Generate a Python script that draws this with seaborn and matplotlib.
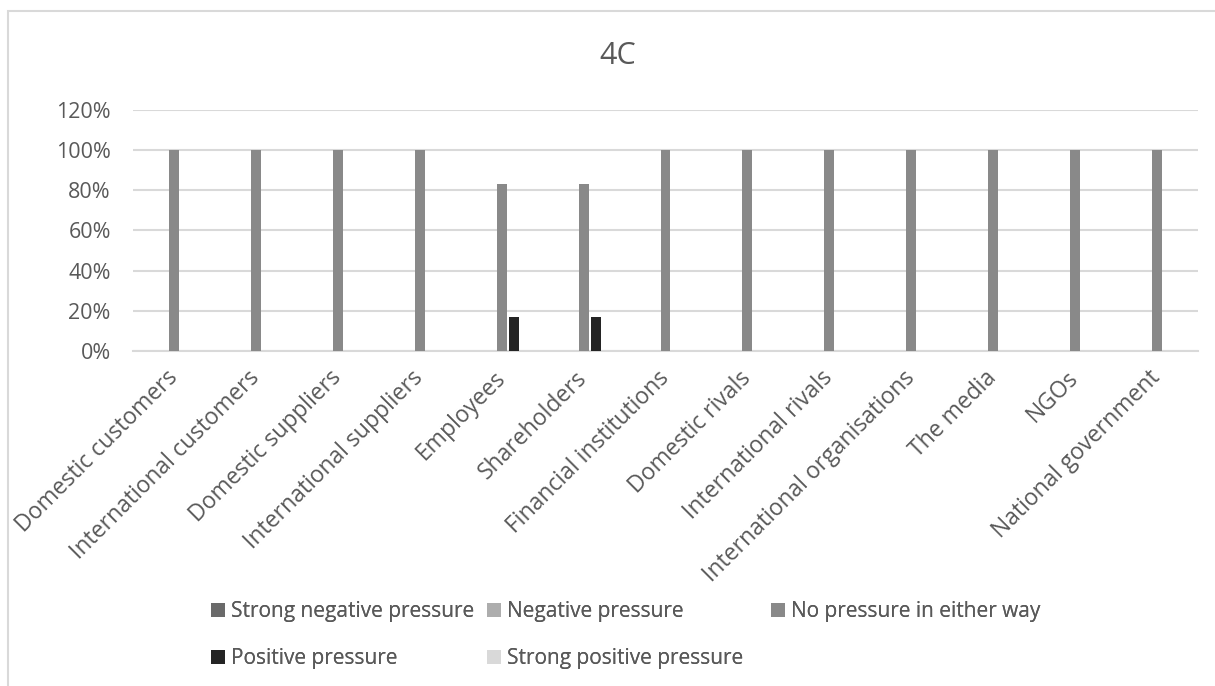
import matplotlib
matplotlib.use("Agg")
import matplotlib.pyplot as plt
from matplotlib.patches import Rectangle
import seaborn as sns
import pandas as pd

categories = [
    "Domestic customers", "International customers", "Domestic suppliers",
    "International suppliers", "Employees", "Shareholders",
    "Financial institutions", "Domestic rivals", "International rivals",
    "International organisations", "The media", "NGOs", "National government",
]
series = [
    "Strong negative pressure", "Negative pressure", "No pressure in either way",
    "Positive pressure", "Strong positive pressure",
]
strong_negative = [0] * 13
negative = [0] * 13
no_pressure = [1.0, 1.0, 1.0, 1.0, 0.833, 0.833, 1.0, 1.0, 1.0, 1.0, 1.0, 1.0, 1.0]
positive = [0, 0, 0, 0, 0.167, 0.167, 0, 0, 0, 0, 0, 0, 0]
strong_positive = [0] * 13
y_ticks = [0, 0.2, 0.4, 0.6, 0.8, 1.0, 1.2]
y_tick_labels = ["0%", "20%", "40%", "60%", "80%", "100%", "120%"]
title = "4C"

colors = ["#6a6a6a", "#adadad", "#898989", "#242424", "#d9d9d9"]

values = [strong_negative, negative, no_pressure, positive, strong_positive]
rows = []
for name, vals in zip(series, values):
    for cat, v in zip(categories, vals):
        rows.append({"Stakeholder": cat, "Pressure": name, "Share": v})
df = pd.DataFrame(rows)

sns.set_theme(style="white")
plt.rcParams["font.family"] = ["Open Sans", "DejaVu Sans"]
text_color = "#595959"
grid_color = "#d9d9d9"

fig = plt.figure(figsize=(12.15, 6.86), dpi=100)
ax = fig.add_axes([133 / 1215, 1 - 351 / 686, (1198 - 133) / 1215, (351 - 110) / 686])

sns.barplot(
    data=df, x="Stakeholder", y="Share", hue="Pressure",
    order=categories, hue_order=series, palette=colors,
    width=0.733, gap=0.17, dodge=True, ax=ax, legend=False,
    saturation=1, linewidth=0, zorder=3,
)

ax.set_ylim(0, 1.2)
ax.set_xlim(-0.5, len(categories) - 0.5)
ax.set_yticks(y_ticks)
ax.set_yticklabels(y_tick_labels, fontsize=15.5, color=text_color)
ax.yaxis.grid(True, color=grid_color, linewidth=1.5, zorder=0)
ax.set_axisbelow(True)
ax.tick_params(axis="both", length=0)
ax.tick_params(axis="y", pad=16)
ax.set_xlabel("")
ax.set_ylabel("")
for side in ["top", "right", "left"]:
    ax.spines[side].set_visible(False)
ax.spines["bottom"].set_color(grid_color)
ax.spines["bottom"].set_linewidth(1.5)

ax.set_xticks(range(len(categories)))
ax.set_xticklabels(categories, fontsize=16.5, color=text_color,
                   rotation=45, ha="right", va="center", rotation_mode="anchor")
ax.tick_params(axis="x", pad=17)

fig.text(618 / 1215, 1 - 56 / 686, title, fontsize=22, color=text_color,
         ha="center", va="center")

# legend laid out in three columns, rows read left to right
handles = [Rectangle((0, 0), 1, 1, facecolor=c, edgecolor="none") for c in colors]
columns = [([0, 3], 211), ([1, 4], 487), ([2], 771)]
for idx, x_px in columns:
    leg = fig.legend([handles[i] for i in idx], [series[i] for i in idx],
                     ncol=1, loc="upper left",
                     bbox_to_anchor=(x_px / 1215, 1 - 601 / 686),
                     frameon=False, fontsize=15, labelcolor=text_color,
                     handlelength=0.65, handleheight=0.65, handletextpad=0.3,
                     labelspacing=1.25, borderpad=0, borderaxespad=0)
    fig.add_artist(leg)

# outer chart border
fig.patches.append(Rectangle((8 / 1215, -0.1), 1.2, 1 - 11 / 686 + 0.1,
                             transform=fig.transFigure, fill=False,
                             edgecolor=grid_color, linewidth=1.5))

fig.savefig("out.png", dpi=100)
